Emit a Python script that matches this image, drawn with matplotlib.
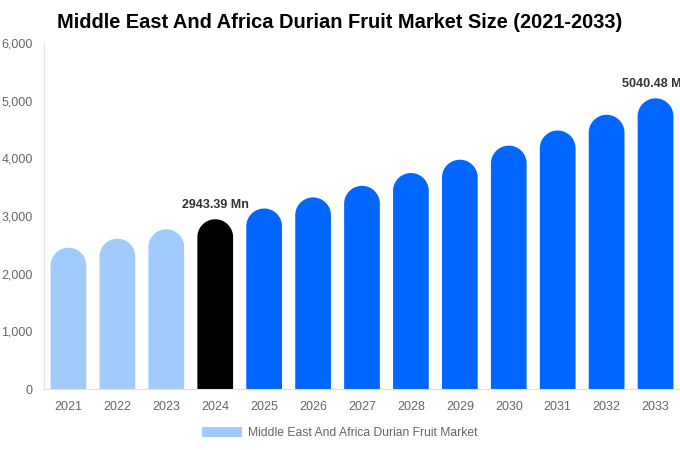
import matplotlib
matplotlib.use("Agg")
import matplotlib.pyplot as plt
import numpy as np
from matplotlib.patches import Polygon, Patch
from matplotlib.ticker import FuncFormatter

plt.rcParams['font.family'] = ['Liberation Sans', 'DejaVu Sans']

years = ["2021", "2022", "2023", "2024", "2025", "2026", "2027",
         "2028", "2029", "2030", "2031", "2032", "2033"]
values = [2450, 2607, 2770, 2943.39, 3130, 3322, 3523,
          3745, 3976, 4220, 4482, 4755, 5040.48]
colors = ["#a0cbfc"] * 3 + ["#000000"] + ["#0066ff"] * 9
labels = {3: "2943.39 Mn", 12: "5040.48 Mn"}
yticks = [0, 1000, 2000, 3000, 4000, 5000, 6000]
title = "Middle East And Africa Durian Fruit Market Size (2021-2033)"
legend_label = "Middle East And Africa Durian Fruit Market"

fig = plt.figure(figsize=(6.8, 4.5), dpi=100)
ax = fig.add_axes([44/680, 1-389/450, 636/680, 346/450])
ax.set_xlim(-0.5, len(years) - 0.5)
ax.set_ylim(0, 6000)

bw = 0.73
ax_w_px = 636
ax_h_px = 346
xr = bw / 2
px_per_x = ax_w_px / len(years)
r_px = xr * px_per_x
ry = r_px / ax_h_px * 6000
t = np.linspace(0, np.pi, 60)

for i, (v, c) in enumerate(zip(values, colors)):
    xs = np.concatenate([[i + xr], i + xr * np.cos(t), [i - xr]])
    ys = np.concatenate([[0], (v - ry) + ry * np.sin(t), [0]])
    ax.add_patch(Polygon(np.column_stack([xs, ys]), closed=True,
                         facecolor=c, edgecolor='none'))
    if i in labels:
        ax.text(i, v + 140, labels[i], ha='center', va='bottom', fontsize=9,
                fontweight='bold', color='#333333', clip_on=False)

ax.set_xticks(range(len(years)))
ax.set_xticklabels(years)
ax.set_yticks(yticks)
ax.yaxis.set_major_formatter(FuncFormatter(lambda v, p: f"{int(v):,}"))
ax.tick_params(axis='both', length=0, labelsize=9, colors='#666666')
ax.tick_params(axis='x', pad=8.5)
ax.tick_params(axis='y', pad=8)
for s in ['top', 'right']:
    ax.spines[s].set_visible(False)
ax.spines['left'].set_color('#e0e0e0')
ax.spines['bottom'].set_color('#e0e0e0')

fig.text(0.5, 1 - 22/450, title, ha='center', va='center', fontsize=14.4,
         fontweight='bold', color='#000000')

handle = Patch(facecolor="#a0cbfc", edgecolor='none')
fig.legend([handle], [legend_label], loc='center', bbox_to_anchor=(340/680, 1 - 433/450),
           frameon=False, fontsize=8.7, labelcolor='#666666', handlelength=3.3,
           handleheight=0.9, handletextpad=0.5)

fig.savefig("out.png", dpi=100)
